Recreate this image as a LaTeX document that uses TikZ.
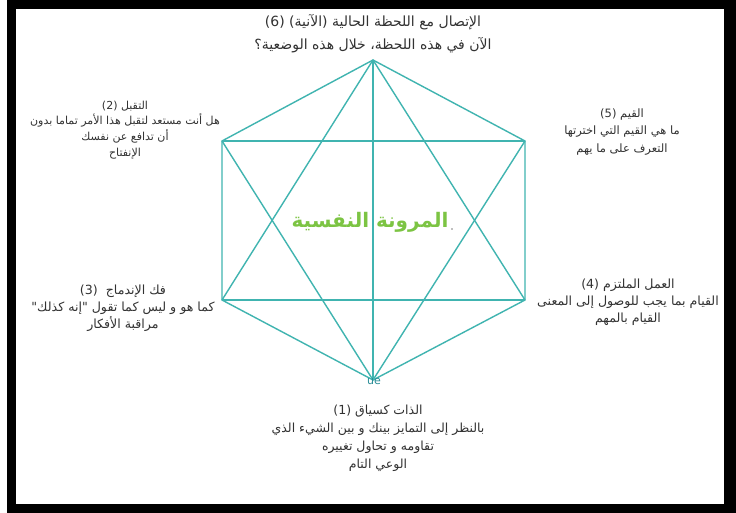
\documentclass[tikz,border=0pt]{standalone}
\usepackage{fontspec}
\setmainfont{DejaVu Sans}
\newfontfamily\arabicfont[Script=Arabic]{DejaVu Sans}
\TeXXeTstate=1
\definecolor{teal1}{RGB}{64,180,176}
\definecolor{uecol}{RGB}{40,140,150}
\definecolor{txt}{RGB}{50,50,50}
\definecolor{grn}{RGB}{124,196,67}
\begin{document}
\begin{tikzpicture}[x=1pt,y=-1pt,
  edge/.style={draw=teal1, line width=1.4pt},
  lbl/.style={text=txt, align=center, inner sep=0pt, font=\arabicfont\fontsize{11}{15.8}\selectfont},
  lblb/.style={text=txt, align=center, inner sep=0pt, font=\arabicfont\fontsize{12.6}{17.2}\selectfont},
  lblc/.style={text=txt, align=center, inner sep=0pt, font=\arabicfont\fontsize{11.5}{17.5}\selectfont},
  toplbl/.style={text=txt, align=center, inner sep=0pt, font=\arabicfont\fontsize{14}{23}\selectfont},
  btmlbl/.style={text=txt, align=center, inner sep=0pt, font=\arabicfont\fontsize{12.5}{18}\selectfont}]
\useasboundingbox (0,0) rectangle (736,513);
\fill[white] (0,0) rectangle (736,513);
\fill[black] (7,0) rectangle (736,513);
\fill[white] (16,9) rectangle (724,504);
% vertices
\coordinate (T) at (373,60);
\coordinate (UL) at (222,141);
\coordinate (UR) at (525,141);
\coordinate (LL) at (222,300);
\coordinate (LR) at (525,300);
\coordinate (B) at (373,380);
% hexagon
\draw[edge] (T) -- (UL) -- (LL) -- (B) -- (LR) -- (UR) -- cycle;
\draw[edge] (UL) -- (UR);
\draw[edge] (LL) -- (LR);
\draw[edge] (T) -- (B);
\draw[edge] (T) -- (LL);
\draw[edge] (T) -- (LR);
\draw[edge] (B) -- (UL);
\draw[edge] (B) -- (UR);
% labels
\node[toplbl] (n6) at (373,34) {(6) \beginR الإتصال مع اللحظة الحالية (الآنية)\endR\\ \beginR الآن في هذه اللحظة، خلال هذه الوضعية؟\endR};
\node[lbl] (n2) at (125,130) {(2) \beginR التقبل\endR\\ \beginR هل أنت مستعد لتقبل هذا الأمر تماما بدون\endR\\ \beginR أن تدافع عن نفسك\endR\\ \beginR الإنفتاح\endR};
\node[lblc] (n5) at (622,132) {(5) \beginR القيم\endR\\ \beginR ما هي القيم التي اخترتها\endR\\ \beginR التعرف على ما يهم\endR};
\node[lblb] (n3) at (123,308) {(3)\ \ \beginR فك الإندماج\endR\\ \beginR كما هو و ليس كما تقول "إنه كذلك"\endR\\ \beginR مراقبة الأفكار\endR};
\node[lblb] (n4) at (628,302) {(4) \beginR العمل الملتزم\endR\\ \beginR القيام بما يجب للوصول إلى المعنى\endR\\ \beginR القيام بالمهم\endR};
\node[btmlbl] (n1) at (378,438) {(1) \beginR الذات كسياق\endR\\ \beginR بالنظر إلى التمايز بينك و بين الشيء الذي\endR\\ \beginR تقاومه و تحاول تغييره\endR\\ \beginR الوعي التام\endR};
\node[text=grn, inner sep=0pt, font=\arabicfont\bfseries\fontsize{20}{24}\selectfont] (c) at (370,222) {\beginR المرونة النفسية\endR};
\fill[gray] (452,229) circle (0.8);
\node[text=uecol, inner sep=0pt, font=\fontsize{11}{13}\selectfont] (ue) at (374,381) {ue};
\end{tikzpicture}
\end{document}
